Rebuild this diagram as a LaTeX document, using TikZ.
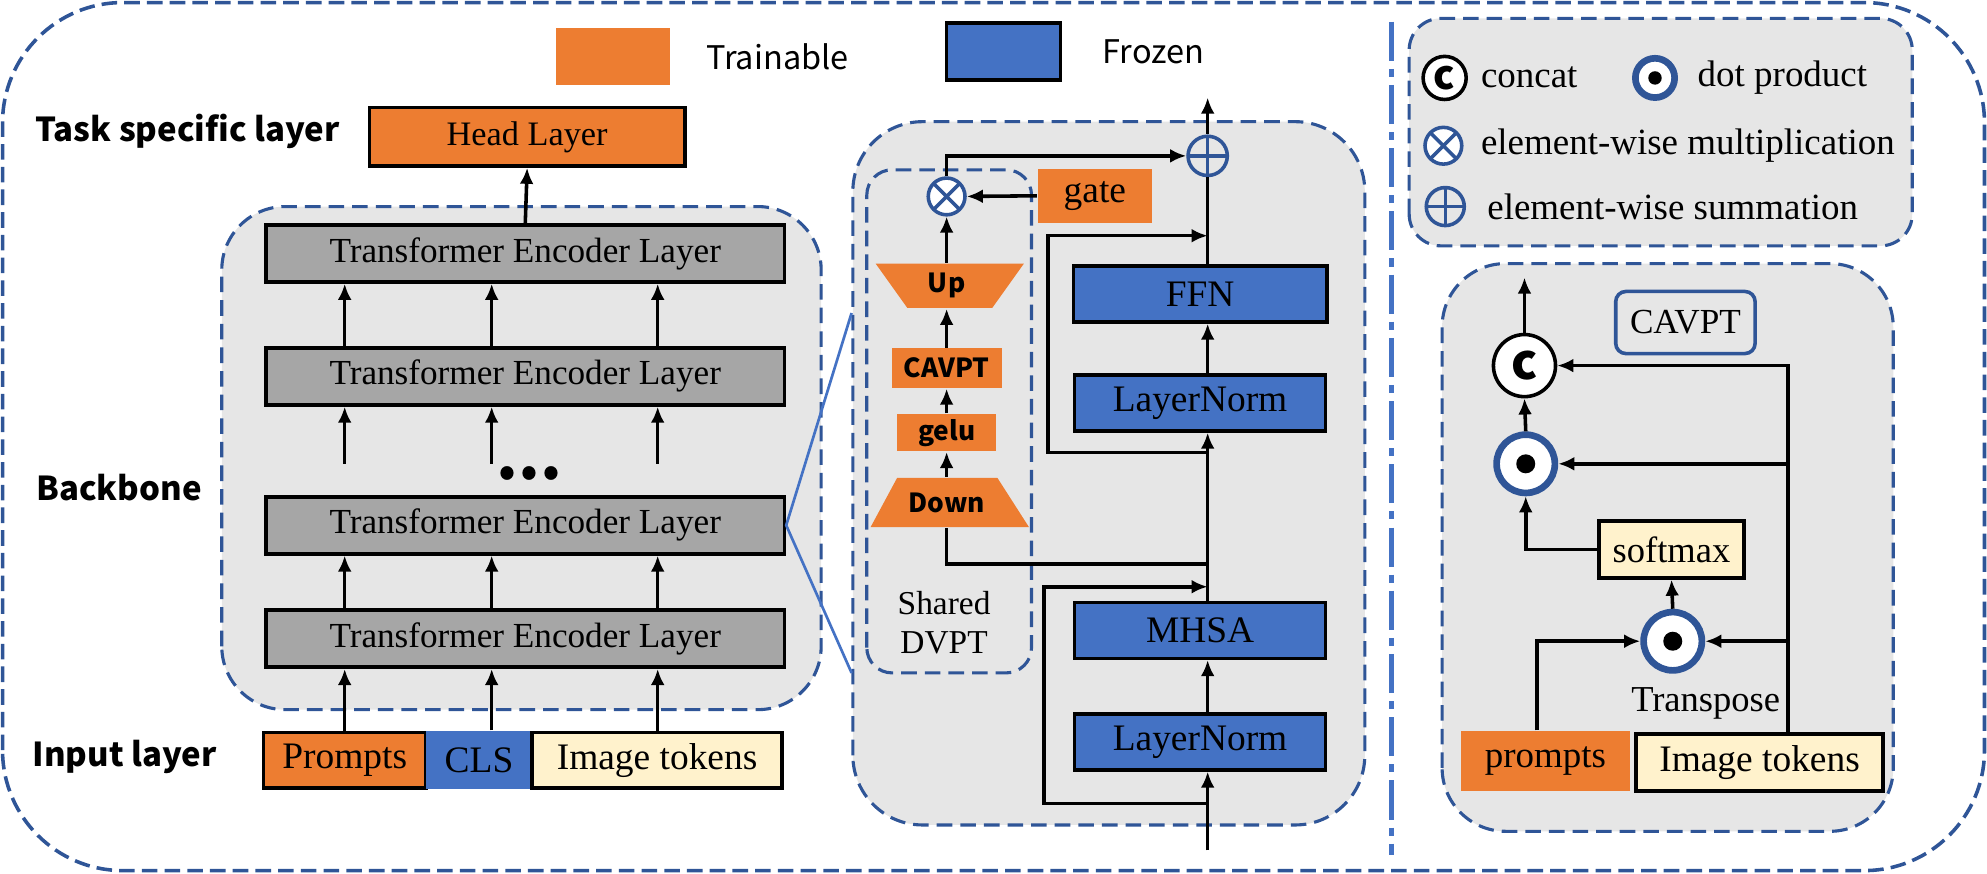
\documentclass[tikz,border=0pt]{standalone}
\usepackage{fontspec}
\setmainfont{Liberation Serif}
\newfontfamily\yahei{Noto Sans CJK SC}
\usepackage{tikz}
\usetikzlibrary{positioning,arrows.meta}

\definecolor{trainOrange}{HTML}{ED7D31}
\definecolor{frozenBlue}{HTML}{4472C4}
\definecolor{tokenYellow}{HTML}{FFF2CC}
\definecolor{layerGray}{HTML}{A6A6A6}
\definecolor{panelGray}{HTML}{E6E6E6}
\definecolor{dashBlue}{HTML}{2F5597}

\tikzset{
  panel/.style={draw=dashBlue, fill=panelGray, line width=0.7pt, dash pattern=on 3.5pt off 1.8pt},
  arr/.style={draw, line width=0.8pt, -{Latex[length=3.6pt,width=3.1pt]}},
  box/.style={draw=black, line width=0.8pt, inner sep=0pt},
  layer/.style={box, fill=layerGray, minimum width=4.09cm, minimum height=0.45cm, font=\fontsize{7.9}{9}\selectfont},
  frozen/.style={box, fill=frozenBlue, minimum width=1.98cm, minimum height=0.44cm, font=\fontsize{8.4}{10}\selectfont},
  trainbox/.style={fill=trainOrange, inner sep=0pt},
  tokbox/.style={box, fill=tokenYellow},
  adapt/.style={font=\yahei\bfseries\fontsize{5.9}{7}\selectfont, inner sep=0pt},
  sanshead/.style={font=\yahei\bfseries\fontsize{7.4}{9}\selectfont, inner sep=0pt, anchor=west},
  sanstxt/.style={font=\yahei\fontsize{7.3}{9}\selectfont, inner sep=0pt},
  legtxt/.style={font=\fontsize{8.3}{10}\selectfont, inner sep=0pt, anchor=west},
  mulop/.style={circle, draw=dashBlue, line width=0.8pt, fill=white, inner sep=0pt,
    path picture={\draw[dashBlue, line width=0.8pt]
      (path picture bounding box.north west) -- (path picture bounding box.south east)
      (path picture bounding box.north east) -- (path picture bounding box.south west);}},
  sumop/.style={circle, draw=dashBlue, line width=0.8pt, inner sep=0pt,
    path picture={\draw[dashBlue, line width=0.8pt]
      (path picture bounding box.north) -- (path picture bounding box.south)
      (path picture bounding box.west) -- (path picture bounding box.east);}},
  dotop/.style={circle, draw=dashBlue, line width=1.5pt, fill=white, inner sep=0pt,
    path picture={\fill[black] (path picture bounding box.center) circle (#1);}},
  catop/.style={circle, draw=black, line width=0.8pt, fill=white, inner sep=0pt, font=\yahei\bfseries}
}

\begin{document}
\begin{tikzpicture}[scale=1]

\useasboundingbox (0,0) rectangle (15.68,6.89);

% frame and panels
\path[draw=dashBlue, line width=0.8pt, dash pattern=on 3.5pt off 1.6pt, rounded corners=0.95cm] (0.02,0.02) rectangle (15.66,6.87);
\path[draw=frozenBlue, line width=1pt, dash pattern=on 8.8pt off 1.8pt on 1.8pt off 1.8pt] (10.98,6.72) -- (10.98,0.14);

\path[panel, rounded corners=0.5cm] (1.75,1.29) rectangle (6.48,5.26);
\path[panel, rounded corners=0.55cm] (6.73,0.38) rectangle (10.77,5.93);
\path[panel, rounded corners=0.2cm] (6.84,1.58) rectangle (8.14,5.55);
\path[panel, rounded corners=0.25cm] (11.12,4.95) rectangle (15.09,6.745);
\path[panel, rounded corners=0.5cm] (11.38,0.33) rectangle (14.94,4.81);

\coordinate (col1) at (2.72,0);
\coordinate (col2) at (3.88,0);
\coordinate (col3) at (5.19,0);
\coordinate (gapTop) at (4.15,3.23);
\coordinate (zoomTop) at (6.72,4.42);
\coordinate (zoomBot) at (6.72,1.58);

% top legend
\node[trainbox, minimum width=0.90cm, minimum height=0.45cm] (legTrain) at (4.84,6.445) {};
\node[sanstxt, right=0.27cm of legTrain] (legTrainTxt) {Trainable};
\node[box, fill=frozenBlue, minimum width=0.90cm, minimum height=0.45cm] (legFrozen) at (7.92,6.485) {};
\node[sanstxt, right=0.31cm of legFrozen] (legFrozenTxt) {Frozen};

\node[sanshead] (lblTask) at (0.27,5.85) {Task specific layer};
\node[sanshead] (lblBack) at (0.28,3.04) {Backbone};
\node[sanshead] (lblInput) at (0.25,0.92) {Input layer};

% backbone
\node[box, fill=trainOrange, minimum width=2.49cm, minimum height=0.46cm, font=\fontsize{7.7}{9}\selectfont] (head) at (4.16,5.81) {Head Layer};
\foreach \y/\n in {4.89/1, 3.92/2, 2.745/3, 1.85/4}
    \node[layer] (tel\n) at (4.145,\y) {Transformer Encoder Layer};
\node[font=\yahei\bfseries\fontsize{14}{14}\selectfont, inner sep=0pt] (dots) at (4.18,3.15) {...};

\node[box, fill=trainOrange, minimum width=1.28cm, minimum height=0.44cm, font=\fontsize{8.4}{10}\selectfont] (inPrompt) at (2.72,0.89) {Prompts};
\node[fill=frozenBlue, inner sep=0pt, minimum width=0.84cm, minimum height=0.46cm, font=\fontsize{8.4}{10}\selectfont] (inCls) at (3.78,0.89) {CLS};
\node[tokbox, minimum width=1.97cm, minimum height=0.44cm, font=\fontsize{8.4}{10}\selectfont] (inImg) at (5.185,0.89) {Image tokens};

\path[arr] (tel1.north) -- (head.south);
\foreach \c/\src in {1/inPrompt, 2/inCls, 3/inImg} {
    \path[arr] (\src.north -| col\c) -- (tel4.south -| col\c);
    \path[arr] (tel4.north -| col\c) -- (tel3.south -| col\c);
    \path[arr] (gapTop -| col\c) -- (tel2.south -| col\c);
    \path[arr] (tel2.north -| col\c) -- (tel1.south -| col\c);
}

\path[draw=frozenBlue, line width=0.6pt] (zoomTop) -- (tel3.east) -- (zoomBot);

% encoder block with shared DVPT
\coordinate (spine) at (9.53,0);
\coordinate (blockIn) at (9.53,0.18);
\coordinate (blockOut) at (9.53,6.12);
\coordinate (res1a) at (8.24,0.55);
\coordinate (res1b) at (8.24,2.26);
\coordinate (brDown) at (9.53,2.44);
\coordinate (res2a) at (8.27,3.32);
\coordinate (res2b) at (8.27,5.03);

\node[frozen] (lnBot) at (9.47,1.035) {LayerNorm};
\node[frozen] (mhsa) at (9.47,1.915) {MHSA};
\node[frozen] (lnTop) at (9.47,3.71) {LayerNorm};
\node[frozen, minimum width=2.0cm] (ffn) at (9.47,4.57) {FFN};
\node[sumop, minimum size=0.31cm] (sum) at (9.53,5.66) {};

\path[fill=trainOrange] (6.91,4.81) -- (8.08,4.81) -- (7.83,4.46) -- (7.16,4.46) -- cycle;
\path[fill=trainOrange] (7.08,3.12) -- (7.87,3.12) -- (8.12,2.73) -- (6.87,2.73) -- cycle;
\node[adapt, minimum width=1.17cm, minimum height=0.35cm] (up) at (7.47,4.635) {Up};
\node[adapt, trainbox, minimum width=0.87cm, minimum height=0.31cm] (cavpt) at (7.47,3.985) {CAVPT};
\node[adapt, trainbox, minimum width=0.78cm, minimum height=0.29cm] (gelu) at (7.47,3.475) {gelu};
\node[adapt, minimum width=1.25cm, minimum height=0.39cm] (down) at (7.47,2.925) {Down};
\node[mulop, minimum size=0.29cm] (mul) at (7.47,5.34) {};
\node[trainbox, minimum width=0.90cm, minimum height=0.43cm, font=\fontsize{8.4}{10}\selectfont] (gate) at (8.64,5.345) {gate};
\node[font=\fontsize{7.5}{8.8}\selectfont, align=center, inner sep=0pt] (sharedLbl) at (7.45,1.975) {Shared\\DVPT};

\path[arr] (blockIn) -- (lnBot.south -| spine);
\path[arr] (lnBot.north -| spine) -- (mhsa.south -| spine);
\path[arr] (mhsa.north -| spine) -- (lnTop.south -| spine);
\path[arr] (lnTop.north -| spine) -- (ffn.south -| spine);
\path[draw, line width=0.8pt] (ffn.north -| spine) -- (sum.south);
\path[arr] (sum.north) -- (blockOut);
\path[arr] (res1a -| spine) -- (res1a) -- (res1b) -- (res1b -| spine);
\path[arr] (res2a -| spine) -- (res2a) -- (res2b) -- (res2b -| spine);
\path[draw, line width=0.8pt] (down.south) |- (brDown);
\path[arr] (down.north) -- (gelu.south);
\path[arr] (gelu.north) -- (cavpt.south);
\path[arr] (cavpt.north) -- (up.south);
\path[arr] (up.north) -- (mul.south);
\path[arr] (gate.west) -- (mul.east);
\path[arr] (mul.north) |- (sum.west);

% operator legend
\node[catop, minimum size=0.34cm, font=\yahei\bfseries\fontsize{9}{9}\selectfont] (legCat) at (11.40,6.275) {c};
\node[legtxt] (legCatTxt) at (11.68,6.28) {concat};
\node[dotop=0.053, minimum size=0.31cm] (legDot) at (13.06,6.275) {};
\node[legtxt] (legDotTxt) at (13.39,6.28) {dot product};
\node[mulop, minimum size=0.29cm] (legMul) at (11.39,5.74) {};
\node[legtxt] (legMulTxt) at (11.68,5.74) {element-wise multiplication};
\node[sumop, minimum size=0.30cm] (legSum) at (11.405,5.26) {};
\node[legtxt] (legSumTxt) at (11.73,5.26) {element-wise summation};

% CAVPT module
\coordinate (catOut) at (12.03,4.70);
\coordinate (pLine) at (12.13,0);
\coordinate (tLine) at (14.11,0);

\node[draw=dashBlue, line width=0.8pt, rounded corners=0.08cm, minimum width=1.10cm, minimum height=0.49cm, inner sep=0pt, font=\fontsize{7.9}{9}\selectfont] (cavptTitle) at (13.30,4.345) {CAVPT};
\node[catop, minimum size=0.49cm, font=\yahei\bfseries\fontsize{11}{11}\selectfont] (cat) at (12.03,4.005) {c};
\node[dotop=0.075, minimum size=0.46cm] (dot1) at (12.04,3.23) {};
\node[tokbox, minimum width=1.14cm, minimum height=0.45cm, font=\fontsize{8.2}{10}\selectfont] (softmax) at (13.19,2.555) {softmax};
\node[dotop=0.075, minimum size=0.46cm] (dot2) at (13.20,1.83) {};
\node[font=\fontsize{8.2}{10}\selectfont, inner sep=0pt] (transp) at (13.46,1.34) {Transpose};
\node[trainbox, minimum width=1.33cm, minimum height=0.47cm, font=\fontsize{8.3}{10}\selectfont] (prompts) at (12.195,0.885) {prompts};
\node[tokbox, minimum width=1.95cm, minimum height=0.45cm, font=\fontsize{8.4}{10}\selectfont] (imgTok) at (13.885,0.875) {Image tokens};

\path[arr] (cat.north) -- (catOut);
\path[arr] (dot1.north) -- (cat.south);
\path[arr] (softmax.west) -| (dot1.south);
\path[arr] (dot2.north) -- (softmax.south);
\path[arr] (prompts.north -| pLine) |- (dot2.west);
\path[arr] (imgTok.north -| tLine) |- (cat.east);
\path[arr] (dot1.east -| tLine) -- (dot1.east);
\path[arr] (dot2.east -| tLine) -- (dot2.east);

\end{tikzpicture}
\end{document}
